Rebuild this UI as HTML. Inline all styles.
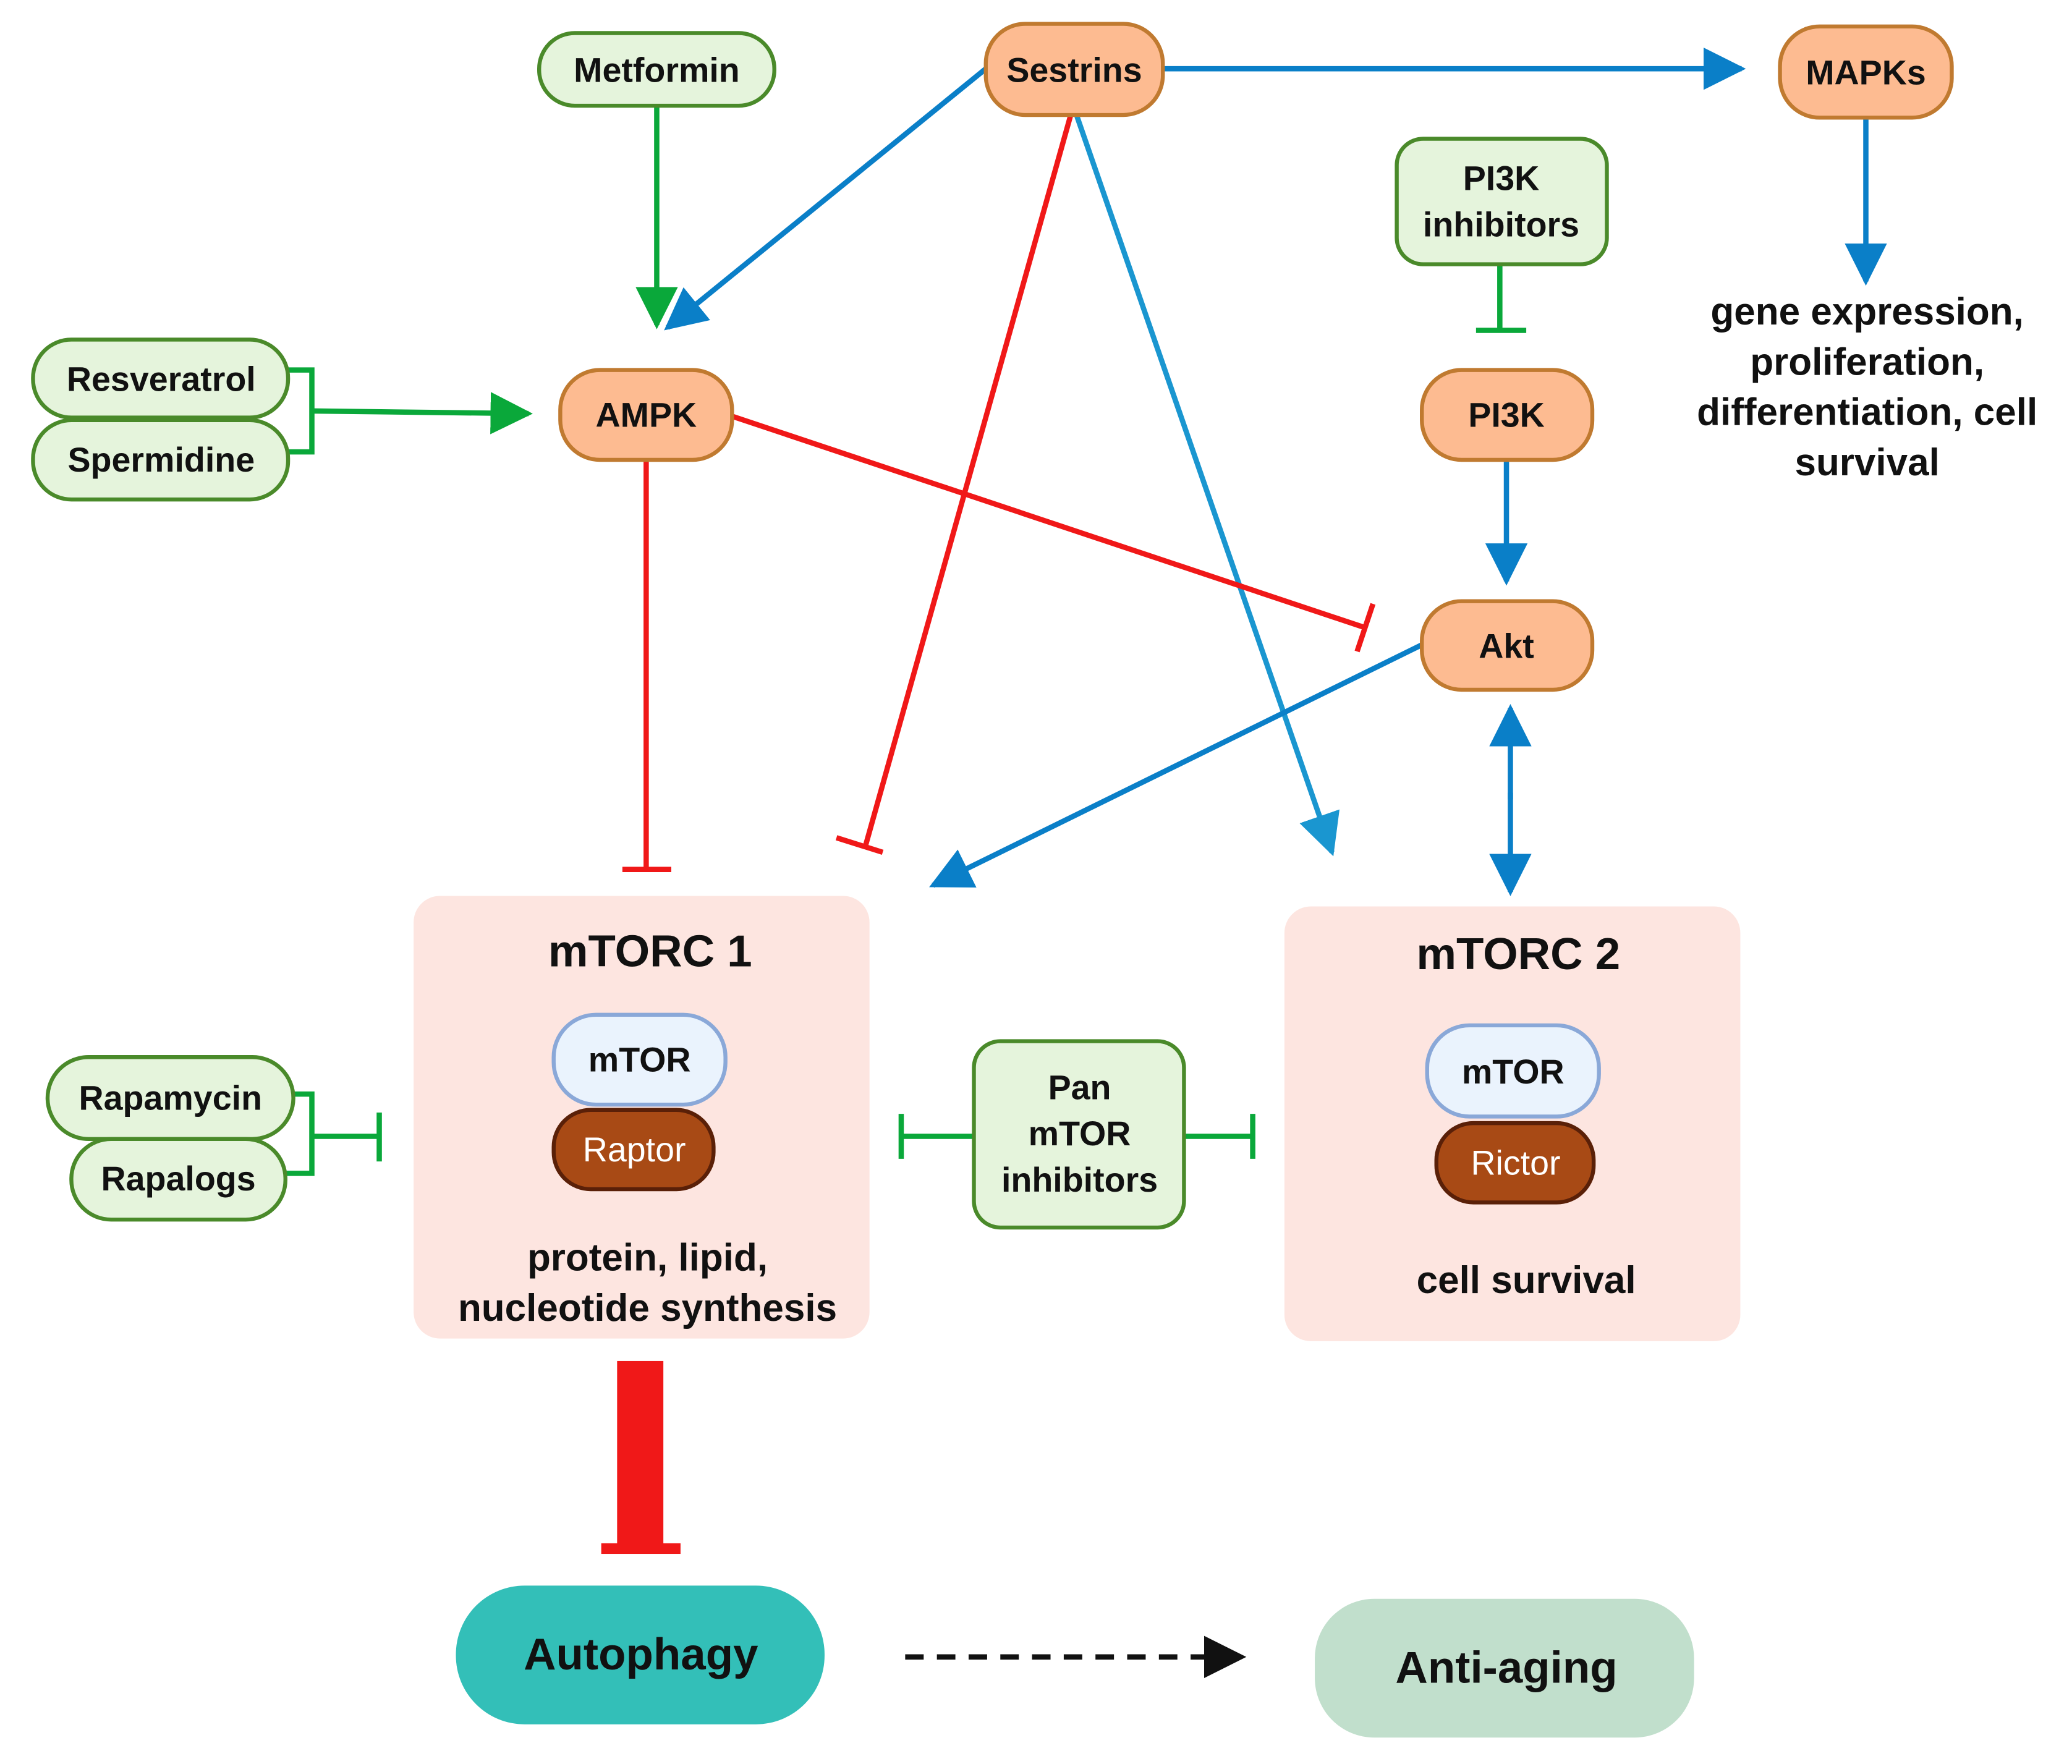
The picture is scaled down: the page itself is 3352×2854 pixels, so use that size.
<!DOCTYPE html>
<html><head><meta charset="utf-8"><style>
html,body{margin:0;padding:0;background:#fff;}
svg{display:block;}
text{font-family:"Liberation Sans",Arial,sans-serif;font-weight:bold;text-anchor:middle;dominant-baseline:central;fill:#111;}
</style></head><body>
<svg width="3352" height="2854" viewBox="0 0 1568 1335" xmlns="http://www.w3.org/2000/svg">
<defs>
<marker id="ab" viewBox="0 0 10 10" refX="9" refY="5" markerWidth="8" markerHeight="8" orient="auto" markerUnits="strokeWidth"><path d="M0,0L10,5L0,10z" fill="#0a7fc8"/></marker>
<marker id="ab2" viewBox="0 0 10 10" refX="9" refY="5" markerWidth="8" markerHeight="8" orient="auto" markerUnits="strokeWidth"><path d="M0,0L10,5L0,10z" fill="#1a96d0"/></marker>
<marker id="ag" viewBox="0 0 10 10" refX="9" refY="5" markerWidth="8" markerHeight="8" orient="auto" markerUnits="strokeWidth"><path d="M0,0L10,5L0,10z" fill="#0aa83a"/></marker>
<marker id="ak" viewBox="0 0 10 10" refX="9" refY="5" markerWidth="8" markerHeight="8" orient="auto" markerUnits="strokeWidth"><path d="M0,0L10,5L0,10z" fill="#111"/></marker>
</defs>

<rect x="313" y="678" width="345" height="335" rx="20" fill="#fde5e0"/>
<rect x="972" y="686" width="345" height="329" rx="20" fill="#fde5e0"/>

<g fill="none" stroke-width="4">
<line x1="497" y1="80" x2="497" y2="246" stroke="#0aa83a" marker-end="url(#ag)"/>
<line x1="746" y1="52" x2="505" y2="248" stroke="#0a7fc8" marker-end="url(#ab)"/>
<line x1="880" y1="52" x2="1318" y2="52" stroke="#0a7fc8" marker-end="url(#ab)"/>
<line x1="810" y1="88" x2="655" y2="640" stroke="#f01818"/>
<line x1="633" y1="634" x2="668" y2="645" stroke="#f01818"/>
<line x1="815" y1="88" x2="1008" y2="645" stroke="#1a96d0" marker-end="url(#ab2)"/>
<line x1="489" y1="348" x2="489" y2="658" stroke="#f01818"/>
<line x1="471" y1="658" x2="508" y2="658" stroke="#f01818"/>
<line x1="554" y1="315" x2="1033" y2="475" stroke="#f01818"/>
<line x1="1027" y1="493" x2="1039" y2="457" stroke="#f01818"/>
<line x1="1135" y1="200" x2="1135" y2="250" stroke="#0aa83a"/>
<line x1="1117" y1="250" x2="1155" y2="250" stroke="#0aa83a"/>
<line x1="1140" y1="348" x2="1140" y2="440" stroke="#0a7fc8" marker-end="url(#ab)"/>
<line x1="1076" y1="488" x2="706" y2="670" stroke="#0a7fc8" marker-end="url(#ab)"/>
<line x1="1143" y1="605" x2="1143" y2="536" stroke="#0a7fc8" marker-end="url(#ab)"/>
<line x1="1143" y1="600" x2="1143" y2="675" stroke="#0a7fc8" marker-end="url(#ab)"/>
<line x1="1412" y1="89" x2="1412" y2="213" stroke="#0a7fc8" marker-end="url(#ab)"/>
<polyline points="218,280 236,280 236,342 218,342" stroke="#0aa83a"/>
<line x1="236" y1="311" x2="400" y2="313" stroke="#0aa83a" marker-end="url(#ag)"/>
<polyline points="222,828 236,828 236,888 216,888" stroke="#0aa83a"/>
<line x1="236" y1="860" x2="287" y2="860" stroke="#0aa83a"/>
<line x1="287" y1="842" x2="287" y2="879" stroke="#0aa83a"/>
<line x1="737" y1="860" x2="682" y2="860" stroke="#0aa83a"/>
<line x1="682" y1="843" x2="682" y2="877" stroke="#0aa83a"/>
<line x1="896" y1="860" x2="948" y2="860" stroke="#0aa83a"/>
<line x1="948" y1="843" x2="948" y2="877" stroke="#0aa83a"/>
<line x1="685" y1="1254" x2="940" y2="1254" stroke="#111" stroke-dasharray="14,10" marker-end="url(#ak)"/>
</g>
<rect x="467" y="1030" width="35" height="142" fill="#f01818"/>
<rect x="455" y="1168" width="60" height="8" fill="#f01818"/>

<g fill="#e5f4dc" stroke="#4a8a2a" stroke-width="3">
<rect x="408" y="25" width="178" height="55" rx="27"/>
<rect x="1057" y="105" width="159" height="95" rx="20"/>
<rect x="25" y="257" width="193" height="59" rx="29"/>
<rect x="25" y="318" width="193" height="60" rx="29"/>
<rect x="36" y="800" width="186" height="62" rx="31"/>
<rect x="54" y="862" width="162" height="61" rx="30"/>
<rect x="737" y="788" width="159" height="141" rx="20"/>
</g>
<g fill="#fdbb91" stroke="#c07a30" stroke-width="3">
<rect x="746" y="18" width="134" height="69" rx="30"/>
<rect x="1347" y="20" width="130" height="69" rx="30"/>
<rect x="424" y="280" width="130" height="68" rx="30"/>
<rect x="1076" y="280" width="129" height="68" rx="30"/>
<rect x="1076" y="455" width="129" height="67" rx="30"/>
</g>
<g fill="#eaf3fd" stroke="#8aa8d8" stroke-width="3">
<rect x="419" y="768" width="130" height="68" rx="32"/>
<rect x="1080" y="776" width="130" height="69" rx="32"/>
</g>
<g fill="#a84a15" stroke="#5a2008" stroke-width="3">
<rect x="419" y="840" width="121" height="60" rx="28"/>
<rect x="1087" y="850" width="119" height="60" rx="28"/>
</g>
<rect x="345" y="1200" width="279" height="105" rx="52" fill="#33bfb8"/>
<rect x="995" y="1210" width="287" height="105" rx="45" fill="#c1dfcc"/>

<g font-size="26">
<text x="497" y="53">Metformin</text>
<text x="813" y="53">Sestrins</text>
<text x="1412" y="55">MAPKs</text>
<text x="1136" y="135">PI3K</text>
<text x="1136" y="170">inhibitors</text>
<text x="122" y="287">Resveratrol</text>
<text x="122" y="348">Spermidine</text>
<text x="489" y="314">AMPK</text>
<text x="1140" y="314">PI3K</text>
<text x="1140" y="489">Akt</text>
<text x="129" y="831">Rapamycin</text>
<text x="135" y="892">Rapalogs</text>
<text x="817" y="823">Pan</text>
<text x="817" y="858">mTOR</text>
<text x="817" y="893">inhibitors</text>
<text x="484" y="802">mTOR</text>
<text x="1145" y="811">mTOR</text>
<text x="480" y="870" style="font-weight:normal;fill:#fff">Raptor</text>
<text x="1147" y="880" style="font-weight:normal;fill:#fff">Rictor</text>
</g>
<g font-size="29">
<text x="1413" y="236">gene expression,</text>
<text x="1413" y="274">proliferation,</text>
<text x="1413" y="312">differentiation, cell</text>
<text x="1413" y="350">survival</text>
<text x="490" y="952">protein, lipid,</text>
<text x="490" y="990">nucleotide synthesis</text>
<text x="1155" y="969">cell survival</text>
</g>
<text x="492" y="720" font-size="34">mTORC 1</text>
<text x="1149" y="722" font-size="34">mTORC 2</text>
<text x="485" y="1252" font-size="34">Autophagy</text>
<text x="1140" y="1262" font-size="34">Anti-aging</text>
</svg>
</body></html>
